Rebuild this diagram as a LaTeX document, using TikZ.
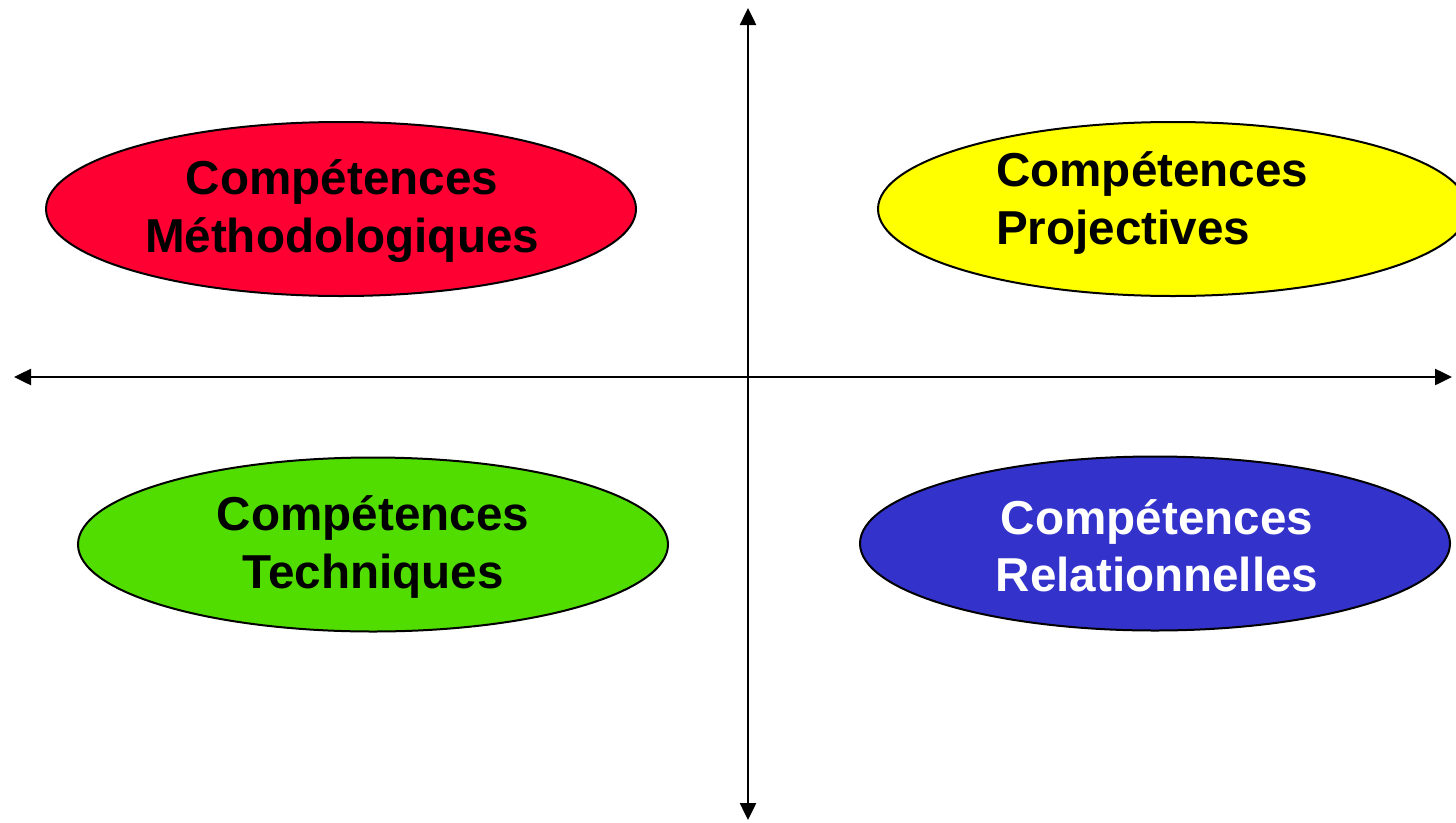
\documentclass[tikz,border=0pt]{standalone}
\usepackage{fontspec}
\setmainfont{Liberation Sans}
\usetikzlibrary{shapes.geometric,arrows.meta}
\definecolor{cred}{RGB}{255,0,51}
\definecolor{cyellow}{RGB}{255,255,0}
\definecolor{cgreen}{RGB}{82,221,0}
\definecolor{cblue}{RGB}{51,51,204}
\tikzset{
  oval/.style={ellipse, draw=black, line width=2pt, minimum width=590pt, minimum height=174pt, inner sep=0pt},
  lbl/.style={font=\bfseries\fontsize{47.6}{57.5}\selectfont, align=center, inner sep=0pt},
  axis/.style={line width=2.5pt, {Triangle[length=17pt,width=16pt]}-{Triangle[length=17pt,width=16pt]}}
}
\begin{document}
\begin{tikzpicture}[x=1pt,y=-1pt]
\useasboundingbox (0,0) rectangle (1456,822);
\clip (0,0) rectangle (1456,822);
\fill[white] (0,0) rectangle (1456,822);
\node[oval, fill=cred] (m) at (341,209) {};
\node[lbl] (mt) at (342,211) {Compétences\\Méthodologiques};
\node[oval, fill=cyellow] (p) at (1173,209) {};
\node[lbl, align=left, anchor=west] (pt) at (996,203) {Compétences\\Projectives};
\node[oval, fill=cgreen] (t) at (373,544.5) {};
\node[lbl] (tt) at (373,547) {Compétences\\Techniques};
\node[oval, fill=cblue] (r) at (1155,543.5) {};
\node[lbl, text=white] (rt) at (1157,546) {Compétences\\Relationnelles};
\coordinate (L) at (14,377);
\coordinate (R) at (1452,377);
\coordinate (T) at (748,8);
\coordinate (B) at (748,820);
\draw[axis] (L) -- (R);
\draw[axis] (B) -- (T);
\end{tikzpicture}
\end{document}
